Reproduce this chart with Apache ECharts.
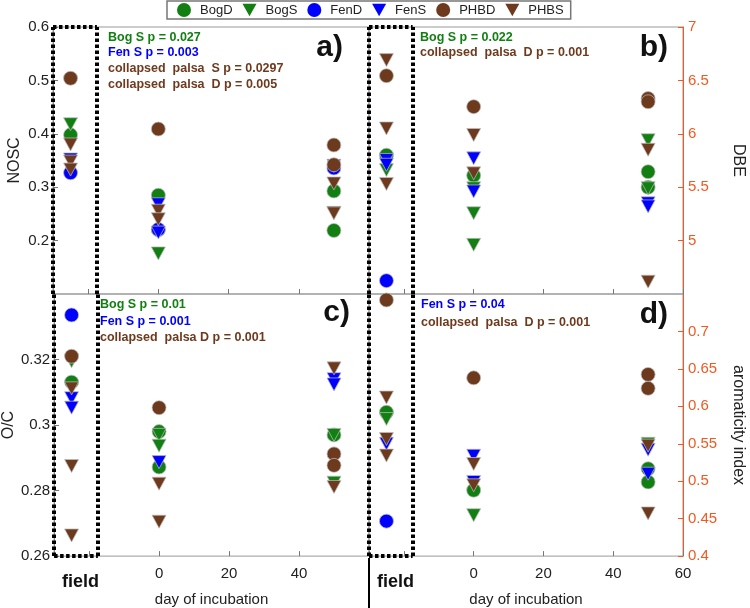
<!DOCTYPE html>
<html>
<head>
<meta charset="utf-8">
<script src="https://cdn.jsdelivr.net/npm/echarts@6/dist/echarts.min.js"></script>
<style>
html, body { margin: 0; padding: 0; background: #fff; }
#chart { width: 750px; height: 608px; }
</style>
</head>
<body>
<div id="chart"></div>
<script>
// x position used for the field samples, left of day 0
var FIELD = -25;
var names = ['BogD', 'BogS', 'FenD', 'FenS', 'PHBD', 'PHBS'];

// a) NOSC
var noscBogD = [[FIELD, 0.398], [0, 0.285], [0, 0.220], [50, 0.293], [50, 0.219]];
var noscBogS = [[FIELD, 0.418], [0, 0.176], [50, 0.252]];
var noscFenD = [[FIELD, 0.327], [0, 0.221], [50, 0.336]];
var noscFenS = [[FIELD, 0.352], [0, 0.268], [0, 0.215], [50, 0.340]];
var noscPHBD = [[FIELD, 0.504], [0, 0.409], [50, 0.379], [50, 0.342]];
var noscPHBS = [[FIELD, 0.380], [FIELD, 0.348], [FIELD, 0.333], [0, 0.256], [0, 0.240], [50, 0.307], [50, 0.251]];

// b) DBE
var dbeBogD = [[FIELD, 5.80], [0, 5.61], [50, 5.645], [50, 5.50]];
var dbeBogS = [[FIELD, 5.66], [0, 5.49], [0, 5.256], [0, 4.96], [50, 5.94], [50, 5.49]];
var dbeFenD = [[FIELD, 4.625]];
var dbeFenS = [[FIELD, 5.755], [FIELD, 5.71], [0, 5.77], [0, 5.46], [50, 5.35], [50, 5.32]];
var dbePHBD = [[FIELD, 6.544], [0, 6.254], [50, 6.33], [50, 6.30]];
var dbePHBS = [[FIELD, 6.69], [FIELD, 6.05], [FIELD, 5.53], [0, 5.989], [0, 5.63], [50, 5.85], [50, 4.615]];

// c) O/C
var ocBogD = [[FIELD, 0.3131], [0, 0.298], [0, 0.2872], [50, 0.297]];
var ocBogS = [[FIELD, 0.3195], [0, 0.297], [0, 0.2937], [50, 0.297], [50, 0.2824]];
var ocFenD = [[FIELD, 0.3336]];
var ocFenS = [[FIELD, 0.3082], [FIELD, 0.3053], [0, 0.2887], [50, 0.314], [50, 0.3124]];
var ocPHBD = [[FIELD, 0.321], [0, 0.3053], [50, 0.2912], [50, 0.2877]];
var ocPHBS = [[FIELD, 0.3112], [FIELD, 0.2875], [FIELD, 0.2663], [0, 0.2821], [0, 0.2705], [50, 0.3173], [50, 0.2811]];

// d) aromaticity index
var aiBogD = [[FIELD, 0.592], [0, 0.488], [50, 0.5166], [50, 0.499]];
var aiBogS = [[FIELD, 0.583], [0, 0.4546], [50, 0.55]];
var aiFenD = [[FIELD, 0.4467]];
var aiFenS = [[FIELD, 0.55], [0, 0.534], [0, 0.499], [50, 0.542], [50, 0.51]];
var aiPHBD = [[FIELD, 0.742], [0, 0.638], [50, 0.6426], [50, 0.624]];
var aiPHBS = [[FIELD, 0.6117], [FIELD, 0.5564], [FIELD, 0.5342], [0, 0.523], [0, 0.4945], [50, 0.5475], [50, 0.457]];

var xTicks = [-20, 0, 20, 40, 60];
var boxLeft = -30, boxRight = -17.5;

var GREEN = '#127f12', BLUE = '#0000ff', BROWN = '#6e3a1e', ORANGE = '#ee5a24';
var FONT = 'Liberation Sans, Arial, sans-serif';
var colors = [GREEN, GREEN, BLUE, BLUE, BROWN, BROWN];
var DOWN = 'path://M0,0 L10,0 L5,9 Z';
var symbols = ['circle', DOWN, 'circle', DOWN, 'circle', DOWN];
var sizes = [14, [14, 13], 14, [14, 13], 14, [14, 13]];

var panels = [
    [noscBogD, noscBogS, noscFenD, noscFenS, noscPHBD, noscPHBS],
    [dbeBogD, dbeBogS, dbeFenD, dbeFenS, dbePHBD, dbePHBS],
    [ocBogD, ocBogS, ocFenD, ocFenS, ocPHBD, ocPHBS],
    [aiBogD, aiBogS, aiFenD, aiFenS, aiPHBD, aiPHBS]
];
var yRange = [[0.1, 0.6], [4.5, 7], [0.26, 0.34], [0.4, 0.75]];

var chart = echarts.init(document.getElementById('chart'));

// dotted frame round the field samples
function boxLines(g) {
    var ymin = yRange[g][0], ymax = yRange[g][1];
    var lines = [
        [{coord: [boxLeft, ymin]}, {coord: [boxLeft, ymax]}],
        [{coord: [boxRight, ymin]}, {coord: [boxRight, ymax]}]
    ];
    if (g < 2) lines.push([{coord: [boxLeft, ymax]}, {coord: [boxRight, ymax]}]);
    else lines.push([{coord: [boxLeft, ymin]}, {coord: [boxRight, ymin]}]);
    return lines;
}

var series = [];
panels.forEach(function (p, g) {
    p.forEach(function (data, i) {
        var s = {
            type: 'scatter',
            name: names[i],
            xAxisIndex: g,
            yAxisIndex: g,
            data: data,
            symbol: symbols[i],
            symbolSize: sizes[i],
            clip: false,
            itemStyle: {color: colors[i], opacity: 1, borderColor: 'rgba(190,190,190,0.9)', borderWidth: 0.8},
            emphasis: {disabled: true}
        };
        if (i === 0) {
            s.markLine = {
                silent: true,
                symbol: 'none',
                label: {show: false},
                lineStyle: {color: '#000', width: 4, type: [3.5, 2.5], opacity: 1},
                data: boxLines(g)
            };
        }
        series.push(s);
    });
});

function num(v) { return String(+v.toFixed(2)); }

var baseX = {
    type: 'value', min: -30, max: 60,
    splitLine: {show: false},
    axisLine: {show: false, onZero: false},
    axisTick: {show: true, inside: true, length: 5, customValues: xTicks, lineStyle: {color: '#777'}},
    axisLabel: {show: false}
};

function xAxis(g, labels) {
    var a = echarts.util.clone(baseX);
    a.gridIndex = g;
    if (labels) {
        a.axisLabel = {
            show: true, customValues: labels, margin: 10,
            color: '#222', fontSize: 15, fontFamily: FONT,
            formatter: function (v) { return v === FIELD ? '{f|field}' : String(v); },
            rich: {f: {fontSize: 18, fontWeight: 'bold', color: '#111', fontFamily: FONT, padding: [7, 0, 0, 18]}}
        };
        a.name = 'day of incubation';
        a.nameLocation = 'middle';
        a.nameGap = 30;
        a.nameTextStyle = {color: '#222', fontSize: 15, fontFamily: FONT};
    }
    return a;
}

function yAxis(g, right, interval, name, gap, hideMin, hideMax) {
    var c = right ? ORANGE : '#222';
    return {
        type: 'value', gridIndex: g, position: right ? 'right' : 'left',
        min: yRange[g][0], max: yRange[g][1], interval: interval,
        splitLine: {show: false},
        axisLine: {show: true, onZero: false, lineStyle: {color: right ? ORANGE : '#888', width: 1}},
        axisTick: {show: true, inside: true, length: 5, lineStyle: {color: right ? ORANGE : '#777'}},
        axisLabel: {
            color: c, fontSize: 15, fontFamily: FONT, margin: right ? 5 : 4,
            showMinLabel: !hideMin, showMaxLabel: !hideMax, formatter: num
        },
        name: name, nameLocation: 'middle', nameGap: gap, nameRotate: right ? -90 : 90,
        nameTextStyle: {color: '#222', fontSize: 16, fontFamily: FONT}
    };
}

function txt(x, y, text, color, size, align) {
    return {
        type: 'text', x: x, y: y, silent: true,
        style: {
            text: text, fill: color, font: 'bold ' + size + 'px ' + FONT,
            textAlign: align || 'left', textVerticalAlign: 'middle',
            align: align || 'left', verticalAlign: 'middle'
        }
    };
}

var option = {
    backgroundColor: '#fff',
    animation: false,
    legend: {
        data: names,
        left: 167, top: 1,
        orient: 'horizontal',
        itemWidth: 14, itemHeight: 14, itemGap: 10,
        padding: [2, 7, 2, 10],
        borderColor: '#777', borderWidth: 1.5, borderRadius: 0,
        itemStyle: {borderWidth: 0},
        textStyle: {color: '#222', fontSize: 13, fontFamily: FONT, padding: [0, 0, 0, 4]},
        selectedMode: false
    },
    grid: [
        {left: 53, top: 27, width: 316, height: 267, show: true, borderColor: '#999', borderWidth: 1},
        {left: 369, top: 27, width: 314, height: 267, show: true, borderColor: '#999', borderWidth: 1},
        {left: 53, top: 294, width: 316, height: 264, show: true, borderColor: '#999', borderWidth: 1},
        {left: 369, top: 294, width: 314, height: 264, show: true, borderColor: '#999', borderWidth: 1}
    ],
    xAxis: [
        xAxis(0, null),
        xAxis(1, null),
        xAxis(2, [FIELD, 0, 20, 40]),
        xAxis(3, [FIELD, 0, 20, 40, 60])
    ],
    yAxis: [
        yAxis(0, false, 0.1, 'NOSC', 30, true, false),
        yAxis(1, true, 0.5, 'DBE', 47, true, false),
        yAxis(2, false, 0.02, 'O/C', 34, false, true),
        yAxis(3, true, 0.05, 'aromaticity index', 47, false, true)
    ],
    graphic: [
        {type: 'line', silent: true, shape: {x1: 369, y1: 558, x2: 369, y2: 608}, style: {stroke: '#000', lineWidth: 2}},
        txt(108, 38, 'Bog S p = 0.027', GREEN, 12.5),
        txt(108, 53, 'Fen S p = 0.003', BLUE, 12.5),
        txt(108, 69, 'collapsed  palsa  S p = 0.0297', BROWN, 12.5),
        txt(108, 85, 'collapsed  palsa  D p = 0.005', BROWN, 12.5),
        txt(343, 48, 'a)', '#111', 30, 'right'),
        txt(420, 38, 'Bog S p = 0.022', GREEN, 12.5),
        txt(420, 53, 'collapsed  palsa  D p = 0.001', BROWN, 12.5),
        txt(668, 48, 'b)', '#111', 30, 'right'),
        txt(100, 305, 'Bog S p = 0.01', GREEN, 12.5),
        txt(100, 322, 'Fen S p = 0.001', BLUE, 12.5),
        txt(100, 338, 'collapsed  palsa D p = 0.001', BROWN, 12.5),
        txt(350, 313, 'c)', '#111', 30, 'right'),
        txt(421, 305, 'Fen S p = 0.04', BLUE, 12.5),
        txt(421, 323, 'collapsed  palsa  D p = 0.001', BROWN, 12.5),
        txt(668, 315, 'd)', '#111', 30, 'right')
    ],
    series: series
};

chart.setOption(option);
</script>
</body>
</html>
